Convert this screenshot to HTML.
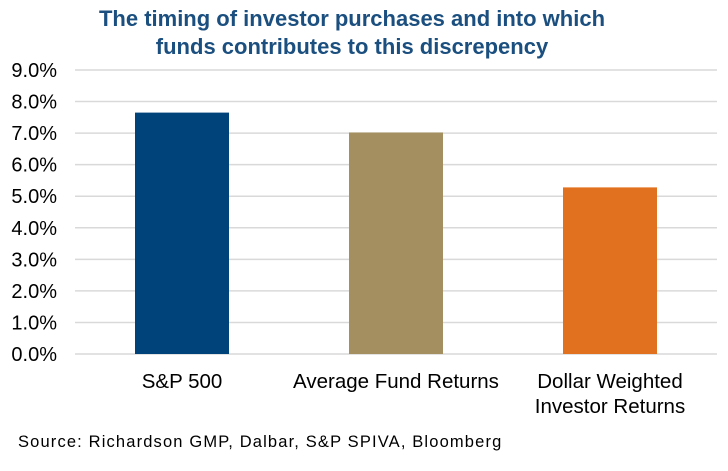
<!DOCTYPE html>
<html><head><meta charset="utf-8"><style>
body{margin:0;background:#fff;width:728px;height:466px;overflow:hidden;font-family:"Liberation Sans",sans-serif}
</style></head><body>
<svg width="728" height="466">
<text x="352" y="26" text-anchor="middle" font-size="22" font-weight="bold" fill="#1b4f7f">The timing of investor purchases and into which</text>
<text x="352" y="54" text-anchor="middle" font-size="22" font-weight="bold" fill="#1b4f7f">funds contributes to this discrepency</text>
<g id="grid"></g><g id="bars"></g><g id="labels"></g>
<text x="18" y="447" font-size="16.5" letter-spacing="1.15" fill="#000">Source: Richardson GMP, Dalbar, S&amp;P SPIVA, Bloomberg</text>
</svg>
<script>
const categories=[["S&P 500"],["Average Fund Returns"],["Dollar Weighted","Investor Returns"]];
const values=[7.65,7.02,5.28];
const ticks=[0,1,2,3,4,5,6,7,8,9];
const colors=["#00427a","#a38f5f","#e2711f"];
const NS="http://www.w3.org/2000/svg";
const x0=75,x1=717,y0=354,y9=70;
const y=v=>y0-(v/9)*(y0-y9);
const step=(x1-x0)/categories.length;
const cx=i=>x0+step*(i+0.5);
function mk(t,a,p){const e=document.createElementNS(NS,t);for(const k in a)e.setAttribute(k,a[k]);p.appendChild(e);return e;}
const g=document.getElementById('grid');
ticks.forEach(t=>{
 const l=mk('line',{x1:x0,x2:x1,y1:y(t),y2:y(t),stroke:'#d9d9d9','stroke-width':1.5},g);
 
 
 const tx=mk('text',{x:57,y:y(t)+7,'text-anchor':'end','font-size':20,fill:'#000'},g);
 tx.textContent=t.toFixed(1)+'%';
 
 
});
const b=document.getElementById('bars'),lb=document.getElementById('labels');
values.forEach((v,i)=>{
 const r=mk('rect',{x:cx(i)-47,y:y(v),width:94,height:y0-y(v),fill:colors[i]},b);
 
 
 categories[i].forEach((s,j)=>{
  const t=mk('text',{x:cx(i),y:388+j*25,'text-anchor':'middle','font-size':20.5,fill:'#000'},lb);
  t.textContent=s;
  
  
 });
});
</script>
</body></html>
